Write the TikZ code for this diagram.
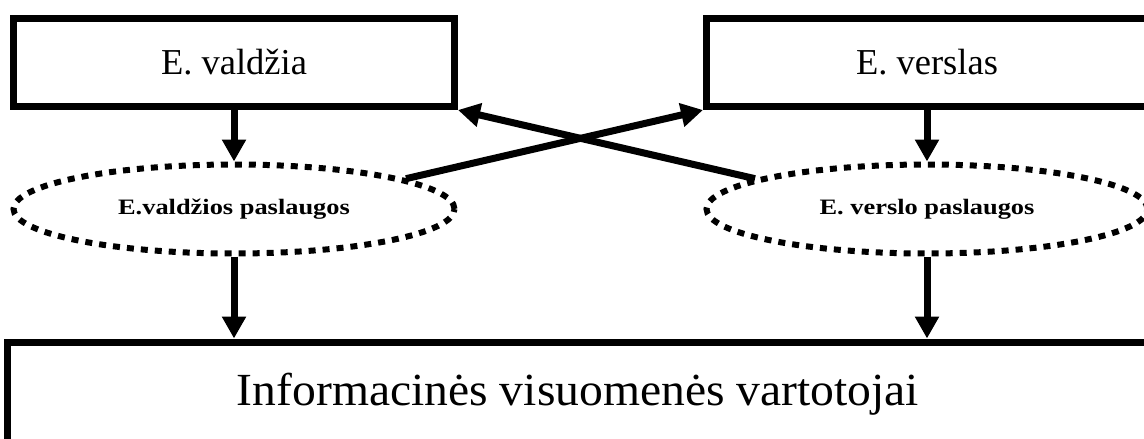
\documentclass[tikz,border=0pt]{standalone}
\usepackage{fontspec}
\setmainfont{Liberation Serif}
\usetikzlibrary{shapes.geometric}
\usetikzlibrary{arrows.meta}

\begin{document}
\begin{tikzpicture}[x=1pt,y=-1pt,
        box/.style={draw,line width=7pt,rectangle,inner sep=0pt},
        service/.style={draw,line width=6pt,ellipse,dash pattern=on 7pt off 7pt,
            minimum width=441pt,minimum height=89pt,inner sep=0pt},
        flow/.style={line width=7pt,-{Triangle[length=22pt,width=23pt]}}]
            % Define the size of the drawing and the centres of the columns
            \def\w{1144}
            \def\h{439}
            \def\gov{234}
            \def\biz{927}

            \useasboundingbox (0,0) rectangle (\w,\h);
            \clip (0,0) rectangle (\w,\h);

            % Draw the two providers
            \node[box,minimum width=441pt,minimum height=88pt] (valdzia) at (\gov,62.5)
                {\fontsize{36.5}{40}\selectfont E. valdžia};
            \node[box,minimum width=441pt,minimum height=88pt] (verslas) at (\biz,62.5)
                {\fontsize{36.5}{40}\selectfont E. verslas};

            % Draw the services
            \node[service] (vpasl) at (\gov,209)
                {\scalebox{1.2}[1]{\fontsize{22}{24}\selectfont\bfseries E.valdžios paslaugos}};
            \node[service] (bpasl) at (\biz,209)
                {\scalebox{1.2}[1]{\fontsize{22}{24}\selectfont\bfseries E. verslo paslaugos}};

            % Draw the users (the box runs on past the lower edge)
            \node[box,minimum width=1142pt,minimum height=104pt] (vartot) at (578,394)
                {\raisebox{3pt}{\scalebox{1.035}[1]{\fontsize{46}{50}\selectfont Informacinės visuomenės vartotojai}}};

            % Draw the arrows
            \draw[flow] (valdzia) -- (vpasl);
            \draw[flow] (verslas) -- (bpasl);
            \draw[flow] (vpasl.south) -- (vpasl.south |- vartot.north);
            \draw[flow] (bpasl.south) -- (bpasl.south |- vartot.north);
            \draw[flow] (vpasl.10) -- (verslas.south west);
            \draw[flow] (bpasl.170) -- (valdzia.south east);
\end{tikzpicture}
\end{document}
